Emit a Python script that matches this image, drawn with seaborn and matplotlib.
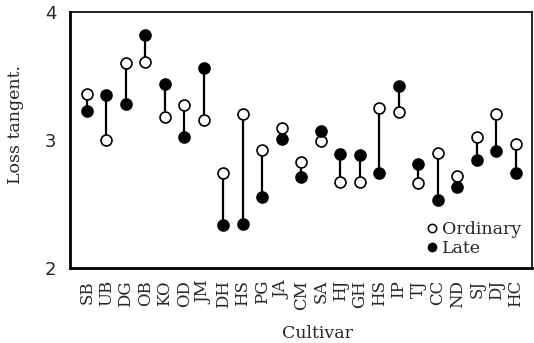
import numpy as np
import pandas as pd
import seaborn as sns
import matplotlib
matplotlib.use("Agg")
import matplotlib.pyplot as plt
from matplotlib.lines import Line2D

cultivars = ["SB", "UB", "DG", "OB", "KO", "OD", "JM", "DH", "HS", "PG", "JA", "CM",
             "SA", "HJ", "GH", "HS", "IP", "TJ", "CC", "ND", "SJ", "DJ", "HC"]
ordinary = [3.36, 3.00, 3.60, 3.61, 3.18, 3.27, 3.16, 2.74, 3.20, 2.92, 3.09, 2.83,
            2.99, 2.67, 2.67, 3.25, 3.22, 2.66, 2.90, 2.72, 3.02, 3.20, 2.97]
late = [3.23, 3.35, 3.28, 3.82, 3.44, 3.02, 3.56, 2.33, 2.34, 2.55, 3.01, 2.71,
        3.07, 2.89, 2.88, 2.74, 3.42, 2.81, 2.53, 2.63, 2.84, 2.91, 2.74]

sns.set_style("white")
plt.rcParams['font.family'] = ['DejaVu Serif']

pos = np.arange(len(cultivars))
df = pd.DataFrame({
    "pos": np.concatenate([pos, pos]),
    "value": ordinary + late,
    "type": ["Ordinary"] * len(pos) + ["Late"] * len(pos),
})

fig = plt.figure(figsize=(5.34, 3.43), dpi=100)
ax = fig.add_axes([0.131, 0.22, 0.865, 0.744])

ax.vlines(pos, ordinary, late, color="black", lw=1.6, zorder=1)
sns.scatterplot(data=df[df.type == "Ordinary"], x="pos", y="value", ax=ax,
                marker="o", s=62, facecolor="white", edgecolor="black",
                linewidth=1.2, zorder=3, legend=False)
sns.scatterplot(data=df[df.type == "Late"], x="pos", y="value", ax=ax,
                marker="o", s=62, color="black", edgecolor="black",
                linewidth=1.2, zorder=3, legend=False)

ax.set_xlim(-0.87, 22.82)
ax.set_ylim(2, 4)
ax.set_xticks(pos)
ax.set_xticklabels(cultivars, rotation=90, fontsize=12)
ax.set_yticks([2, 2.5, 3, 3.5, 4])
ax.set_yticklabels(["2", "", "3", "", "4"], fontsize=13, family="DejaVu Sans")
ax.tick_params(axis="x", direction="in", length=5, width=1.3, pad=9)
ax.tick_params(axis="y", direction="out", length=4, width=1.3, pad=6)
ax.set_xlabel("Cultivar", fontsize=12.5)
ax.xaxis.set_label_coords(0.537, -0.225)
ax.set_ylabel("Loss tangent.", fontsize=12.5)
ax.yaxis.set_label_coords(-0.1, 0.56)

for side in ["left", "bottom"]:
    ax.spines[side].set_linewidth(2)
for side in ["top", "right"]:
    ax.spines[side].set_linewidth(1.2)
for s in ax.spines.values():
    s.set_color("black")

handles = [
    Line2D([], [], marker="o", ls="", markerfacecolor="white", markeredgecolor="black",
           markersize=6, markeredgewidth=1.1, label="Ordinary"),
    Line2D([], [], marker="o", ls="", markerfacecolor="black", markeredgecolor="black",
           markersize=6, label="Late"),
]
ax.legend(handles=handles, loc="lower right", bbox_to_anchor=(1.0, 0.0),
          frameon=False, fontsize=12.5, handlelength=0.6, handletextpad=0.3,
          labelspacing=0.1, borderaxespad=0.2)

fig.savefig("out.png", dpi=100)
